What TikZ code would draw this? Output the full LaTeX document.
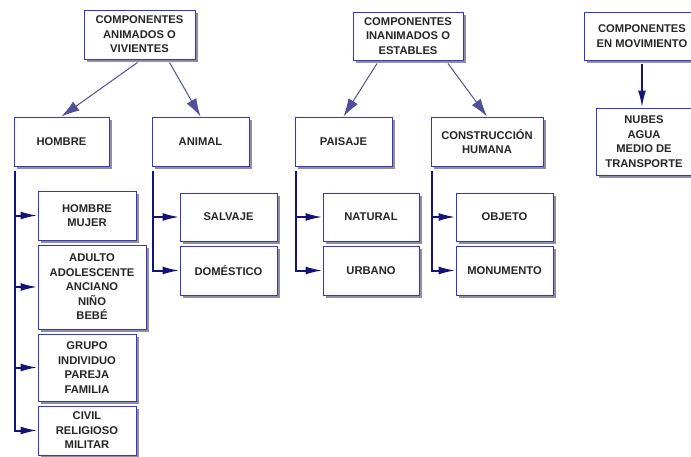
\documentclass[tikz,border=0pt]{standalone}
\usepackage{fontspec}
\setmainfont{Liberation Sans}
\usetikzlibrary{arrows.meta,shadows}

\definecolor{bordo}{RGB}{50,50,235}
\definecolor{blunotte}{RGB}{20,20,120}
\definecolor{ombra}{RGB}{145,145,145}

\tikzset{
  scatola/.style={draw=bordo, line width=1pt, fill=white, align=center, inner sep=0pt,
    font=\fontsize{11.2}{14.5}\selectfont\bfseries, text=black!85,
    drop shadow={shadow xshift=3pt, shadow yshift=-3pt, fill=ombra, opacity=1}},
  ramo/.style={blunotte, line width=2pt, -{Latex[length=17pt,width=8pt]}},
  freccia/.style={blunotte!75, line width=1pt, -{Latex[length=18pt,width=11pt]}}
}

\begin{document}
\begin{tikzpicture}[x=1pt, y=-1pt]
        % Margini fissi della figura
        \useasboundingbox (0,0) rectangle (691,456);

        % Componenti principali (riga in alto)
        \node[scatola, minimum width=111pt, minimum height=49pt] (anim) at (139.5,34.5) {COMPONENTES\\ANIMADOS O\\VIVIENTES};
        \node[scatola, minimum width=110pt, minimum height=48pt] (inan) at (408,36) {COMPONENTES\\INANIMADOS O\\ESTABLES};
        \node[scatola, minimum width=116pt, minimum height=48pt] (movi) at (642,36) {COMPONENTES\\EN MOVIMIENTO};

        % Secondo livello
        \node[scatola, minimum width=95pt, minimum height=49pt] (hombre) at (61.5,141.5) {HOMBRE};
        \node[scatola, minimum width=97pt, minimum height=49pt] (animal) at (200.5,141.5) {ANIMAL};
        \node[scatola, minimum width=97pt, minimum height=49pt] (paisaje) at (343.5,141.5) {PAISAJE};
        \node[scatola, minimum width=112pt, minimum height=49pt] (constr) at (487,141.5) {CONSTRUCCIÓN\\HUMANA};
        \node[scatola, minimum width=96pt, minimum height=67pt] (nubes) at (644,141.5) {NUBES\\AGUA\\MEDIO DE\\TRANSPORTE};

        % Terzo livello: sotto HOMBRE
        \node[scatola, minimum width=98pt, minimum height=49pt] (sexo) at (87,215.5) {HOMBRE\\MUJER};
        \node[scatola, minimum width=108pt, minimum height=84pt] (edad) at (92,287) {ADULTO\\ADOLESCENTE\\ANCIANO\\NIÑO\\BEBÉ};
        \node[scatola, minimum width=98pt, minimum height=67pt] (grupo) at (87,367.5) {GRUPO\\INDIVIDUO\\PAREJA\\FAMILIA};
        \node[scatola, minimum width=98pt, minimum height=49pt] (civil) at (87,430.5) {CIVIL\\RELIGIOSO\\MILITAR};

        % Terzo livello: sotto ANIMAL, PAISAJE e CONSTRUCCIÓN
        \node[scatola, minimum width=97pt, minimum height=48pt] (salvaje) at (228.5,217) {SALVAJE};
        \node[scatola, minimum width=97pt, minimum height=49pt] (domestico) at (228.5,270.5) {DOMÉSTICO};
        \node[scatola, minimum width=96pt, minimum height=48pt] (natural) at (371,217) {NATURAL};
        \node[scatola, minimum width=96pt, minimum height=49pt] (urbano) at (371,270.5) {URBANO};
        \node[scatola, minimum width=97pt, minimum height=48pt] (objeto) at (504.5,217) {OBJETO};
        \node[scatola, minimum width=97pt, minimum height=49pt] (monumento) at (504.5,270.5) {MONUMENTO};

        % Frecce oblique dai componenti principali
        \draw[freccia] ([xshift=-2pt, yshift=-3pt]anim.south) -- (hombre.north);
        \draw[freccia] ([xshift=30pt, yshift=-3pt]anim.south) -- (animal.north);
        \draw[freccia] ([xshift=-31pt, yshift=-3pt]inan.south) -- (paisaje.north);
        \draw[freccia] ([xshift=40pt, yshift=-3pt]inan.south) -- (constr.north);
        \draw[ramo] ([yshift=-3pt]movi.south) -- (movi.south |- nubes.north);

        % Rami ad angolo retto verso i figli
        \foreach \figlio in {sexo, edad, grupo, civil}
            \draw[ramo] ([xshift=1pt, yshift=-4pt]hombre.south west) |- (\figlio.west);
        \foreach \figlio in {salvaje, domestico}
            \draw[ramo] ([xshift=1pt, yshift=-4pt]animal.south west) |- (\figlio.west);
        \foreach \figlio in {natural, urbano}
            \draw[ramo] ([xshift=1pt, yshift=-4pt]paisaje.south west) |- (\figlio.west);
        \foreach \figlio in {objeto, monumento}
            \draw[ramo] ([xshift=1pt, yshift=-4pt]constr.south west) |- (\figlio.west);
    \end{tikzpicture}
\end{document}
